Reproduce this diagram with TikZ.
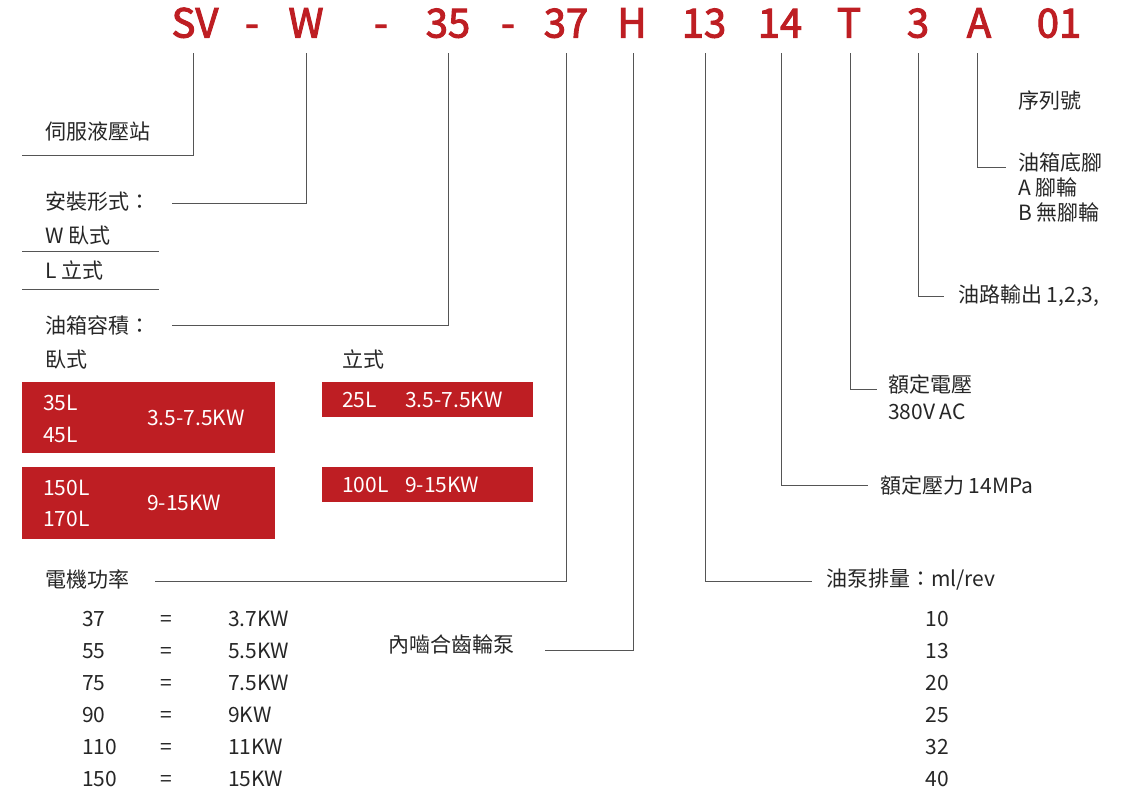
\documentclass[tikz,border=0pt]{standalone}
\usepackage{fontspec}
\setmainfont{Noto Sans CJK TC}
\newfontfamily\hdrfont{Noto Sans CJK TC}[AutoFakeBold=2.6]
\definecolor{brandred}{HTML}{BE1E23}
\definecolor{txt}{HTML}{262626}
\definecolor{ln}{HTML}{555555}
\begin{document}
\begin{tikzpicture}[x=1pt,y=-1pt,
  hdr/.style={anchor=base,text=brandred,font=\hdrfont\bfseries\fontsize{40}{48}\selectfont,inner sep=0pt},
  lbl/.style={anchor=base west,text=txt,font=\fontsize{21}{25}\selectfont,inner sep=0pt},
  lblc/.style={anchor=base,text=txt,font=\fontsize{21}{25}\selectfont,inner sep=0pt},
  wlbl/.style={anchor=base west,text=white,font=\fontsize{21}{25}\selectfont,inner sep=0pt},
  conn/.style={draw=ln,line width=1pt},
  redbox/.style={fill=brandred,draw=none}]
\useasboundingbox (0,0) rectangle (1129,795);
% header
\node[hdr] (sv) at (195,37.5) {SV};
\node[hdr] (d1) at (252,37.5) {-};
\node[hdr] (w) at (306,37.5) {W};
\node[hdr] (d2) at (381,37.5) {-};
\node[hdr] (c35) at (448,37.5) {35};
\node[hdr] (d3) at (508,37.5) {-};
\node[hdr] (c37) at (566,37.5) {37};
\node[hdr] (h) at (632,37.5) {H};
\node[hdr] (c13) at (704,37.5) {13};
\node[hdr] (c14) at (780,37.5) {14};
\node[hdr] (t) at (849,37.5) {T};
\node[hdr] (c3) at (918,37.5) {3};
\node[hdr] (a) at (979,37.5) {A};
\node[hdr] (c01) at (1059,37.5) {01};
% line tops
\coordinate (p1) at (193,53);
\coordinate (p2) at (306,53);
\coordinate (p3) at (448,53);
\coordinate (p4) at (566,53);
\coordinate (p5) at (633,53);
\coordinate (p6) at (705,53);
\coordinate (p7) at (781,53);
\coordinate (p8) at (850,53);
\coordinate (p9) at (918,53);
\coordinate (p10) at (977,53);
% left labels
\node[lbl] (servo) at (45,139) {伺服液壓站};
\coordinate (e1) at (22,155);
\node[lbl] (mount) at (45,209) {安裝形式：};
\coordinate (e2) at (172,203);
\node[lbl] (wtype) at (45,243) {W 臥式};
\node[lbl] (ltype) at (45,278) {L 立式};
\coordinate (s1a) at (22,251); \coordinate (s1b) at (159,251);
\coordinate (s2a) at (22,289); \coordinate (s2b) at (159,289);
\node[lbl] (tank) at (45,333) {油箱容積：};
\coordinate (e3) at (172,325);
\node[lbl] (hor) at (45,367) {臥式};
\node[lbl] (ver) at (342,367) {立式};
% red boxes
\fill[redbox] (22,382) rectangle (275,453);
\fill[redbox] (22,467) rectangle (275,539);
\fill[redbox] (322,382) rectangle (533,417);
\fill[redbox] (322,467) rectangle (533,502);
\node[wlbl] (b35) at (43,410) {35L};
\node[wlbl] (b45) at (43,442) {45L};
\node[wlbl] (bk1) at (147,425) {3.5-7.5KW};
\node[wlbl] (b150) at (43,495) {150L};
\node[wlbl] (b170) at (43,526) {170L};
\node[wlbl] (bk2) at (147,510) {9-15KW};
\node[wlbl] (b25) at (342,407) {25L};
\node[wlbl] (bk3) at (405,407) {3.5-7.5KW};
\node[wlbl] (b100) at (342,492) {100L};
\node[wlbl] (bk4) at (405,492) {9-15KW};
% motor power
\node[lbl] (motor) at (45,587) {電機功率};
\coordinate (e4) at (155,581);
\foreach \i/\a/\b in {0/37/3.7KW,1/55/5.5KW,2/75/7.5KW,3/90/9KW,4/110/11KW,5/150/15KW}{
  \node[lbl] (ma\i) at (82,626+32*\i) {\a};
  \node[lbl] (me\i) at (160,626+32*\i) {=};
  \node[lbl] (mb\i) at (228,626+32*\i) {\b};
}
\node[lbl] (pump) at (388,652) {內嚙合齒輪泵};
\coordinate (e5) at (545,650);
% right labels
\node[lbl] (disp) at (826,586) {油泵排量：ml/rev};
\coordinate (e6) at (812,581);
\foreach \i/\v in {0/10,1/13,2/20,3/25,4/32,5/40}{
  \node[lblc] (dv\i) at (937,626+32*\i) {\v};
}
\node[lbl] (press) at (880,493) {額定壓力 14MPa};
\coordinate (e7) at (868,485);
\node[lbl] (volt) at (888,392) {額定電壓};
\node[lbl] (volt2) at (888,419) {380V AC};
\coordinate (e8) at (877,389);
\node[lbl] (outp) at (958,302) {油路輸出 1,2,3,};
\coordinate (e9) at (944,296);
\node[lbl] (foot) at (1018,170) {油箱底腳};
\node[lbl] (foota) at (1018,195) {A 腳輪};
\node[lbl] (footb) at (1018,220) {B 無腳輪};
\coordinate (e10) at (1006,167);
\node[lbl] (serial) at (1018,108) {序列號};
% connectors
\draw[conn] (p1) |- (e1);
\draw[conn] (p2) |- (e2);
\draw[conn] (s1a) -- (s1b);
\draw[conn] (s2a) -- (s2b);
\draw[conn] (p3) |- (e3);
\draw[conn] (p4) |- (e4);
\draw[conn] (p5) |- (e5);
\draw[conn] (p6) |- (e6);
\draw[conn] (p7) |- (e7);
\draw[conn] (p8) |- (e8);
\draw[conn] (p9) |- (e9);
\draw[conn] (p10) |- (e10);
\end{tikzpicture}
\end{document}
